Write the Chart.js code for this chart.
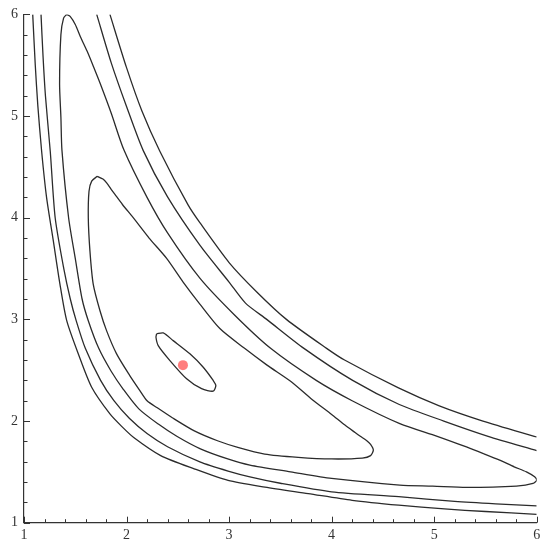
<!DOCTYPE html>
<html lang="en">
<head>
    <meta charset="UTF-8">
    <title>Contour</title>
    <script src="https://cdn.jsdelivr.net/npm/chart.js"></script>
    <style>
        body { margin: 0; background: #fff; }
        #box { width: 550px; height: 550px; }
    </style>
</head>
<body>
    <div id="box"><canvas id="myChart" width="550" height="550"></canvas></div>
<script>
    // ticks
    const majorTicks = [1, 2, 3, 4, 5, 6];
    const minorTicks = [1.2, 1.4, 1.6, 1.8, 2.2, 2.4, 2.6, 2.8, 3.2, 3.4, 3.6, 3.8,
                        4.2, 4.4, 4.6, 4.8, 5.2, 5.4, 5.6, 5.8];

    // contour lines, [x, y]
    const contourLow2 = [[1.085, 6.0], [1.11, 5.5], [1.135, 5.1], [1.172, 4.654], [1.22, 4.2], [1.286, 3.772],
        [1.35, 3.35], [1.416, 2.99], [1.53, 2.66], [1.66, 2.333], [1.838, 2.07], [1.95, 1.95], [2.07, 1.838],
        [2.333, 1.66], [2.66, 1.53], [2.99, 1.416], [3.35, 1.35], [3.772, 1.286], [4.2, 1.22], [4.654, 1.172],
        [5.1, 1.135], [5.5, 1.11], [6.0, 1.082]];

    const contourLow1 = [[1.166, 6.0], [1.185, 5.6], [1.209, 5.2], [1.256, 4.654], [1.304, 4.0], [1.388, 3.5],
        [1.451, 3.203], [1.508, 2.99], [1.598, 2.715], [1.747, 2.4], [1.877, 2.2], [2.027, 2.027], [2.2, 1.877],
        [2.4, 1.747], [2.715, 1.598], [2.99, 1.508], [3.203, 1.451], [3.5, 1.388], [4.0, 1.304], [4.654, 1.256],
        [5.2, 1.209], [5.6, 1.185], [6.0, 1.166]];

    const contourHigh1 = [[1.709, 6.0], [1.85, 5.526], [2.0, 5.094], [2.163, 4.66], [2.4, 4.205], [2.715, 3.73],
        [3.0, 3.367], [3.16, 3.16], [3.367, 3.0], [3.73, 2.715], [4.205, 2.4], [4.66, 2.163], [5.094, 2.0],
        [5.526, 1.85], [6.0, 1.709]];

    const contourHigh2 = [[1.838, 6.0], [2.0, 5.476], [2.15, 5.05], [2.326, 4.652], [2.6, 4.126], [2.715, 3.951],
        [3.0, 3.559], [3.27, 3.27], [3.559, 3.0], [3.951, 2.715], [4.126, 2.6], [4.652, 2.326], [5.05, 2.15],
        [5.476, 2.0], [6.0, 1.843]];

    const contourOuter = [[1.416, 6.0], [1.45, 5.98], [1.5, 5.9], [1.55, 5.78], [1.615, 5.639], [1.68, 5.48],
        [1.745, 5.315], [1.85, 5.03], [1.975, 4.665], [2.2, 4.2], [2.4, 3.85], [2.715, 3.405], [3.048, 3.048],
        [3.405, 2.715], [3.85, 2.4], [4.2, 2.2], [4.665, 1.975], [5.03, 1.85], [5.315, 1.745], [5.48, 1.68],
        [5.639, 1.615], [5.78, 1.55], [5.9, 1.5], [5.98, 1.451], [6.0, 1.419], [5.964, 1.386], [5.802, 1.36],
        [5.315, 1.347], [4.986, 1.36], [4.665, 1.37], [4.0, 1.435], [3.6, 1.5], [3.203, 1.566], [2.987, 1.627],
        [2.715, 1.729], [2.49, 1.85], [2.31, 1.97], [2.12, 2.12], [1.97, 2.31], [1.85, 2.49], [1.729, 2.715],
        [1.627, 2.987], [1.566, 3.203], [1.5, 3.6], [1.435, 4.0], [1.37, 4.665], [1.36, 4.986], [1.347, 5.315],
        [1.36, 5.802], [1.386, 5.964], [1.416, 6.0]];

    const contourInner = [[1.714, 4.407], [1.77, 4.38], [1.806, 4.343], [1.85, 4.28], [1.887, 4.229], [1.96, 4.13],
        [2.065, 4.0], [2.22, 3.8], [2.391, 3.6], [2.55, 3.37], [2.715, 3.151], [2.91, 2.91], [3.151, 2.715],
        [3.37, 2.55], [3.6, 2.391], [3.8, 2.22], [4.0, 2.065], [4.13, 1.96], [4.229, 1.887], [4.28, 1.85],
        [4.343, 1.806], [4.38, 1.77], [4.407, 1.714], [4.38, 1.66], [4.3, 1.635], [4.0, 1.627], [3.674, 1.643],
        [3.347, 1.675], [3.085, 1.741], [2.887, 1.806], [2.661, 1.903], [2.45, 2.03], [2.3, 2.13], [2.2, 2.2],
        [2.13, 2.3], [2.03, 2.45], [1.903, 2.661], [1.806, 2.887], [1.741, 3.085], [1.675, 3.347], [1.643, 3.674],
        [1.627, 4.0], [1.634, 4.26], [1.66, 4.36], [1.714, 4.407]];

    const contourCore = [[2.293, 2.857], [2.358, 2.867], [2.455, 2.791], [2.618, 2.661], [2.748, 2.529],
        [2.845, 2.399], [2.871, 2.35], [2.845, 2.294], [2.732, 2.318], [2.586, 2.416], [2.423, 2.595],
        [2.309, 2.742], [2.287, 2.824], [2.293, 2.857]];

    const minPoint = [[2.55, 2.55]];

    const corLinha = '#2b2b2b';
    const fonteEixo = { family: "'Liberation Serif', 'DejaVu Serif', serif", size: 14 };

    function linha(pontos) {
        return {
            data: pontos.map(p => ({ x: p[0], y: p[1] })),
            showLine: true,
            borderColor: corLinha,
            borderWidth: 1.3,
            pointRadius: 0,
            tension: 0.25,
            fill: false
        };
    }

    // inward tick marks like the original axes
    const marcasEixo = {
        id: 'marcasEixo',
        afterDraw(chart) {
            const ctx = chart.ctx;
            const xs = chart.scales.x;
            const ys = chart.scales.y;
            const area = chart.chartArea;
            ctx.save();
            ctx.strokeStyle = '#333';
            ctx.lineWidth = 1;
            ctx.beginPath();
            majorTicks.forEach(v => {
                const px = Math.round(xs.getPixelForValue(v)) + 0.5;
                ctx.moveTo(px, area.bottom);
                ctx.lineTo(px, area.bottom - 6);
                const py = Math.round(ys.getPixelForValue(v)) + 0.5;
                ctx.moveTo(area.left, py);
                ctx.lineTo(area.left + 6, py);
            });
            minorTicks.forEach(v => {
                const px = Math.round(xs.getPixelForValue(v)) + 0.5;
                ctx.moveTo(px, area.bottom);
                ctx.lineTo(px, area.bottom - 3.5);
                const py = Math.round(ys.getPixelForValue(v)) + 0.5;
                ctx.moveTo(area.left, py);
                ctx.lineTo(area.left + 3.5, py);
            });
            ctx.stroke();
            ctx.restore();
        }
    };

    const ctx1 = document.getElementById('myChart');

    new Chart(ctx1, {
        type: 'scatter',
        data: {
            datasets: [
                {
                    data: minPoint.map(p => ({ x: p[0], y: p[1] })),
                    pointRadius: 5,
                    backgroundColor: 'rgb(255, 125, 125)',
                    borderWidth: 0
                },
                linha(contourCore),
                linha(contourInner),
                linha(contourOuter),
                linha(contourLow1),
                linha(contourLow2),
                linha(contourHigh1),
                linha(contourHigh2)
            ]
        },
        options: {
            responsive: false,
            animation: false,
            events: [],
            layout: { padding: { top: 12.7, right: 13.3, left: 0, bottom: 0 } },
            plugins: {
                legend: { display: false },
                tooltip: { enabled: false }
            },
            scales: {
                x: {
                    type: 'linear',
                    min: 1,
                    max: 6,
                    ticks: { stepSize: 1, font: fonteEixo, color: '#333', padding: 4, maxRotation: 0 },
                    grid: { display: false, drawTicks: false },
                    border: { display: true, color: '#333', width: 1.2 },
                    afterFit(s) { s.height = 27.3; }
                },
                y: {
                    type: 'linear',
                    min: 1,
                    max: 6,
                    ticks: { stepSize: 1, font: fonteEixo, color: '#333', padding: 6 },
                    grid: { display: false, drawTicks: false },
                    border: { display: true, color: '#333', width: 1.2 },
                    afterFit(s) { s.width = 24; }
                }
            }
        },
        plugins: [marcasEixo]
    });
</script>
</body>
</html>
